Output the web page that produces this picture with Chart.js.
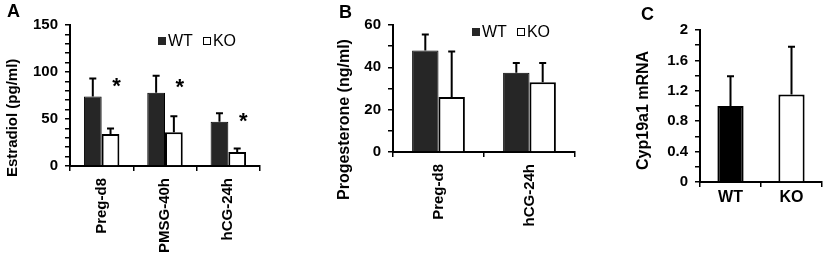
<!DOCTYPE html>
<html>
<head>
<meta charset="utf-8">
<script src="https://cdn.jsdelivr.net/npm/chart.js@4.4.1/dist/chart.umd.min.js"></script>
<style>
  body { margin: 0; background: #fff; }
  #fig { position: relative; width: 825px; height: 262px; overflow: hidden;
         font-family: "Liberation Sans", Arial, sans-serif; color: #000; }
  canvas { position: absolute; top: 0; }
  .letter { position: absolute; font-weight: bold; font-size: 18px; line-height: 1; }
  .ytitle { position: absolute; font-weight: bold; font-size: 16px; white-space: nowrap;
            transform-origin: 0 0; transform: rotate(-90deg); line-height: 1; }
  .legend { position: absolute; font-size: 16px; line-height: 1; white-space: nowrap; }
  .legend span.box { display: inline-block; width: 8px; height: 8px; vertical-align: 1px;
                     box-sizing: border-box; margin-right: 2px; }
  .legend span.wt { background: #262626; }
  .legend span.ko { background: #fff; border: 1.5px solid #000; margin-left: 10px; }
</style>
</head>
<body>
<div id="fig">
  <canvas id="panelA" width="275" height="262" style="left:0px"></canvas>
  <canvas id="panelB" width="300" height="262" style="left:280px"></canvas>
  <canvas id="panelC" width="245" height="262" style="left:580px"></canvas>

  <div class="letter" style="left:7px;top:2px">A</div>
  <div class="letter" style="left:339px;top:3px">B</div>
  <div class="letter" style="left:641px;top:5px">C</div>

  <div class="ytitle" style="left:4px;top:177px;font-size:15px">Estradiol (pg/ml)</div>
  <div class="ytitle" style="left:336px;top:200px">Progesterone (ng/ml)</div>
  <div class="ytitle" style="left:635px;top:170px">Cyp19a1 mRNA</div>

  <div class="legend" style="left:158px;top:33px"><span class="box wt"></span>WT<span class="box ko"></span>KO</div>
  <div class="legend" style="left:472px;top:24px"><span class="box wt"></span>WT<span class="box ko"></span>KO</div>
</div>
<script>
// panel A - estradiol
var categoriesA = ['Preg-d8', 'PMSG-40h', 'hCG-24h'];
var wtA = [74, 78, 47];
var wtErrA = [19, 18, 9];
var koA = [34, 36, 15];
var koErrA = [6, 17, 3.5];
var starA = [89, 88, 52];

// panel B - progesterone
var categoriesB = ['Preg-d8', 'hCG-24h'];
var wtB = [48, 37.5];
var wtErrB = [7.5, 4.5];
var koB = [26, 33];
var koErrB = [21.5, 9];

// panel C - Cyp19a1 mRNA
var categoriesC = ['WT', 'KO'];
var valuesC = [1.0, 1.15];
var errC = [0.39, 0.63];

var FONT = '"Liberation Sans", Arial, sans-serif';
Chart.defaults.font.family = FONT;
Chart.defaults.color = '#000';

// error bars (upper only) drawn from each dataset's "errors" list
var errorBars = {
    id: 'errorBars',
    afterDatasetsDraw: function (chart) {
        var ctx = chart.ctx;
        var yScale = chart.scales.y;
        ctx.save();
        ctx.strokeStyle = '#000';
        ctx.lineWidth = 2;
        chart.data.datasets.forEach(function (ds, di) {
            if (!ds.errors) return;
            chart.getDatasetMeta(di).data.forEach(function (bar, i) {
                var top = yScale.getPixelForValue(ds.data[i] + ds.errors[i]);
                ctx.beginPath();
                ctx.moveTo(bar.x, bar.y);
                ctx.lineTo(bar.x, top);
                ctx.moveTo(bar.x - 3.5, top);
                ctx.lineTo(bar.x + 3.5, top);
                ctx.stroke();
            });
        });
        ctx.restore();
    }
};

// asterisks above the KO bars of panel A
var stars = {
    id: 'stars',
    afterDatasetsDraw: function (chart, args, opts) {
        if (!opts.values) return;
        var ctx = chart.ctx;
        var yScale = chart.scales.y;
        var meta = chart.getDatasetMeta(1);
        ctx.save();
        ctx.fillStyle = '#000';
        ctx.font = 'bold 22px ' + FONT;
        ctx.textAlign = 'center';
        ctx.textBaseline = 'middle';
        meta.data.forEach(function (bar, i) {
            ctx.fillText('*', bar.x + 6, yScale.getPixelForValue(opts.values[i]) + 5);
        });
        ctx.restore();
    }
};

function makeChart(id, cfg) {
    return new Chart(document.getElementById(id), {
        type: 'bar',
        data: { labels: cfg.labels, datasets: cfg.datasets },
        plugins: [errorBars, stars],
        options: {
            responsive: false,
            animation: false,
            layout: { padding: cfg.padding },
            plugins: {
                legend: { display: false },
                tooltip: { enabled: false },
                stars: { values: cfg.stars || null }
            },
            scales: {
                x: {
                    offset: true,
                    grid: { offset: true, drawOnChartArea: false, drawTicks: true, tickLength: 5, color: '#000', lineWidth: 1.5 },
                    border: { display: true, color: '#000', width: 2 },
                    ticks: {
                        font: { size: cfg.rotate ? 15 : 16, weight: 'bold' },
                        maxRotation: cfg.rotate ? 90 : 0,
                        minRotation: cfg.rotate ? 90 : 0,
                        padding: cfg.rotate ? 7 : 1,
                        autoSkip: false
                    },
                    afterFit: function (scale) { scale.height = cfg.xHeight; }
                },
                y: {
                    min: 0,
                    max: cfg.max,
                    grid: { drawOnChartArea: false, drawTicks: true, tickLength: 5, color: '#000', lineWidth: 1.5 },
                    border: { display: true, color: '#000', width: 2 },
                    ticks: {
                        stepSize: cfg.step,
                        autoSkip: false,
                        padding: 7,
                        font: { size: 15, weight: 'bold' },
                        callback: function (v) {
                            var r = v / cfg.labelEvery;
                            if (Math.abs(r - Math.round(r)) > 1e-6) return '';
                            return String(Number(v.toFixed(1)));
                        }
                    },
                    afterFit: function (scale) { scale.width = cfg.yWidth; }
                }
            }
        }
    });
}

makeChart('panelA', {
    labels: categoriesA,
    datasets: [
        { label: 'WT', data: wtA, errors: wtErrA, backgroundColor: '#262626', borderColor: '#000', borderWidth: 1,
          barPercentage: 1, categoryPercentage: 0.56 },
        { label: 'KO', data: koA, errors: koErrA, backgroundColor: '#fff', borderColor: '#000', borderWidth: 2,
          barPercentage: 1, categoryPercentage: 0.56 }
    ],
    stars: starA,
    max: 150, step: 10, labelEvery: 50,
    rotate: true,
    padding: { top: 25, right: 15, left: 0, bottom: 0 },
    xHeight: 96, yWidth: 70
});

makeChart('panelB', {
    labels: categoriesB,
    datasets: [
        { label: 'WT', data: wtB, errors: wtErrB, backgroundColor: '#262626', borderColor: '#000', borderWidth: 1,
          barPercentage: 1, categoryPercentage: 0.58 },
        { label: 'KO', data: koB, errors: koErrB, backgroundColor: '#fff', borderColor: '#000', borderWidth: 2,
          barPercentage: 1, categoryPercentage: 0.58 }
    ],
    max: 60, step: 10, labelEvery: 20,
    rotate: true,
    padding: { top: 25, right: 5, left: 0, bottom: 0 },
    xHeight: 110, yWidth: 113
});

makeChart('panelC', {
    labels: categoriesC,
    datasets: [
        { label: 'Cyp19a1', data: valuesC, errors: errC, backgroundColor: ['#000', '#fff'], borderColor: '#000', borderWidth: 2,
          barPercentage: 0.43, categoryPercentage: 1 }
    ],
    max: 2, step: 0.2, labelEvery: 0.4,
    rotate: false,
    padding: { top: 30, right: 3, left: 0, bottom: 0 },
    xHeight: 80, yWidth: 120
});
</script>
</body>
</html>
